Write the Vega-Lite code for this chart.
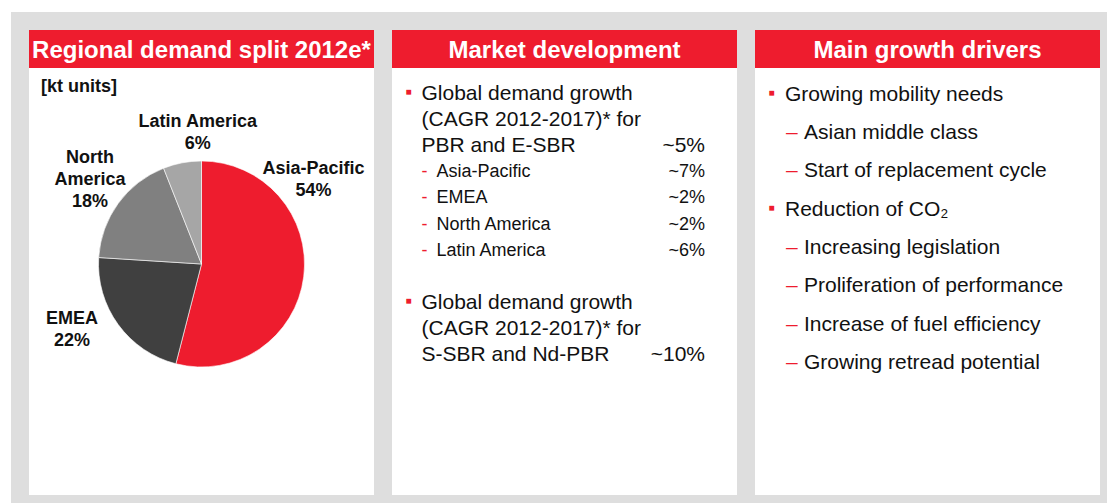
{
  "$schema": "https://vega.github.io/schema/vega-lite/v6.json",
  "background": "#dedede",
  "padding": {"left": 0, "top": 0, "right": 0, "bottom": 0},
  "spacing": 0,
  "config": {
    "view": {"stroke": null},
    "font": "Liberation Sans",
    "text": {"font": "Liberation Sans", "color": "#111111"}
  },
  "datasets": {
    "pie": [
      {"region": "Asia-Pacific", "share": 54, "label": "Asia-Pacific\n54%"},
      {"region": "EMEA", "share": 22, "label": "EMEA\n22%"},
      {"region": "North America", "share": 18, "label": "North\nAmerica\n18%"},
      {"region": "Latin America", "share": 6, "label": "Latin America\n6%"}
    ],
    "market": [
      {"text": "Global demand growth", "line": 0, "level": 0, "first": true, "growth": ""},
      {"text": "(CAGR 2012-2017)* for", "line": 1, "level": 0, "first": false, "growth": ""},
      {"text": "PBR and E-SBR", "line": 2, "level": 0, "first": false, "growth": "~5%"},
      {"text": "Asia-Pacific", "line": 3, "level": 1, "first": true, "growth": "~7%"},
      {"text": "EMEA", "line": 4, "level": 1, "first": true, "growth": "~2%"},
      {"text": "North America", "line": 5, "level": 1, "first": true, "growth": "~2%"},
      {"text": "Latin America", "line": 6, "level": 1, "first": true, "growth": "~6%"},
      {"text": "Global demand growth", "line": 8, "level": 0, "first": true, "growth": ""},
      {"text": "(CAGR 2012-2017)* for", "line": 9, "level": 0, "first": false, "growth": ""},
      {"text": "S-SBR and Nd-PBR", "line": 10, "level": 0, "first": false, "growth": "~10%"}
    ],
    "drivers": [
      {"text": "Growing mobility needs", "line": 0, "level": 0},
      {"text": "Asian middle class", "line": 1, "level": 1},
      {"text": "Start of replacement cycle", "line": 2, "level": 1},
      {"text": "Reduction of CO₂", "line": 3, "level": 0},
      {"text": "Increasing legislation", "line": 4, "level": 1},
      {"text": "Proliferation of performance", "line": 5, "level": 1},
      {"text": "Increase of fuel efficiency", "line": 6, "level": 1},
      {"text": "Growing retread potential", "line": 7, "level": 1}
    ],
    "none": []
  },
  "vconcat": [
    {
      "width": 1107, "height": 12,
      "view": {"fill": "#ffffff", "stroke": null},
      "data": {"name": "none"},
      "mark": {"type": "text"},
      "encoding": {"text": {"field": "note"}}
    },
    {
      "spacing": 18,
      "hconcat": [
        {
          "width": 11, "height": 491,
          "view": {"fill": "#ffffff", "stroke": null},
          "data": {"name": "none"},
          "mark": {"type": "text"},
          "encoding": {"text": {"field": "note"}}
        },
        {
          "spacing": 17,
          "vconcat": [
            {
              "width": 1, "height": 1,
              "data": {"name": "none"},
              "mark": {"type": "text"},
              "encoding": {"text": {"field": "note"}}
            },
            {
              "spacing": 18,
              "hconcat": [
                {
                  "spacing": 0,
                  "vconcat": [
                    {
                      "width": 345, "height": 38,
                      "view": {"fill": "#ee1c2e", "stroke": null},
                      "data": {"values": [{"title": "Regional demand split 2012e*"}]},
                      "mark": {"type": "text", "fontSize": 24, "fontWeight": "bold", "color": "#ffffff", "align": "center", "baseline": "middle", "dy": 2},
                      "encoding": {"text": {"field": "title"}}
                    },
                    {
                      "width": 345, "height": 392,
                      "view": {"fill": "#ffffff", "stroke": null},
                      "layer": [
                        {
                          "data": {"values": [{"note": "[kt units]"}]},
                          "mark": {"type": "text", "fontSize": 18, "fontWeight": "bold", "align": "left", "baseline": "middle", "x": 12, "y": 19, "color": "#111111"},
                          "encoding": {"text": {"field": "note"}}
                        },
                        {
                          "data": {"name": "pie"},
                          "mark": {"type": "arc", "outerRadius": 103, "stroke": "#ffffff", "strokeWidth": 0.6},
                          "encoding": {
                            "theta": {"field": "share", "type": "quantitative", "stack": true},
                            "order": {"field": "share", "sort": "descending"},
                            "color": {
                              "field": "region", "type": "nominal", "legend": null,
                              "scale": {"domain": ["Asia-Pacific", "EMEA", "North America", "Latin America"], "range": ["#ee1c2e", "#404040", "#808080", "#a6a6a6"]}
                            }
                          }
                        },
                        {
                          "data": {"name": "pie"},
                          "mark": {
                            "type": "text", "fontSize": 18, "fontWeight": "bold", "align": "center", "baseline": "middle",
                            "lineBreak": "\n", "lineHeight": 22, "color": "#111111",
                            "dx": {"expr": "datum.region == 'Asia-Pacific' ? 112 : datum.region == 'EMEA' ? -129.5 : datum.region == 'North America' ? -111.5 : -3.7"},
                            "dy": {"expr": "datum.region == 'Asia-Pacific' ? -95 : datum.region == 'EMEA' ? 54.5 : datum.region == 'North America' ? -106 : -142"}
                          },
                          "encoding": {"text": {"field": "label"}}
                        }
                      ]
                    },
                    {
                      "width": 345, "height": 35,
                      "view": {"fill": "#ffffff", "stroke": null},
                      "data": {"name": "none"},
                      "mark": {"type": "text"},
                      "encoding": {"text": {"field": "note"}}
                    }
                  ]
                },
                {
                  "spacing": 0,
                  "vconcat": [
                    {
                      "width": 345, "height": 38,
                      "view": {"fill": "#ee1c2e", "stroke": null},
                      "data": {"values": [{"title": "Market development"}]},
                      "mark": {"type": "text", "fontSize": 24, "fontWeight": "bold", "color": "#ffffff", "align": "center", "baseline": "middle", "dy": 2},
                      "encoding": {"text": {"field": "title"}}
                    },
                    {
                      "width": 345, "height": 427,
                      "view": {"fill": "#ffffff", "stroke": null},
                      "data": {"name": "market"},
                      "encoding": {
                        "x": {"field": "level", "type": "quantitative", "axis": null, "scale": {"domain": [0, 1], "range": [29.5, 44.5], "nice": false, "zero": false}},
                        "y": {"field": "line", "type": "quantitative", "axis": null, "scale": {"domain": [0, 10], "range": [26, 287], "nice": false, "zero": false}}
                      },
                      "layer": [
                        {
                          "mark": {"type": "text", "align": "left", "baseline": "middle", "color": "#111111"},
                          "encoding": {
                            "text": {"field": "text"},
                            "size": {"field": "level", "type": "ordinal", "legend": null, "scale": {"domain": [0, 1], "range": [21, 18]}}
                          }
                        },
                        {
                          "transform": [{"filter": "datum.first && datum.level == 0"}],
                          "mark": {"type": "text", "text": "■", "fontSize": 10, "align": "center", "baseline": "middle", "dx": -13, "dy": -2, "color": "#ee1c2e"}
                        },
                        {
                          "transform": [{"filter": "datum.first && datum.level == 1"}],
                          "mark": {"type": "text", "text": "-", "fontSize": 18, "align": "center", "baseline": "middle", "dx": -12, "color": "#ee1c2e"}
                        },
                        {
                          "transform": [{"filter": "datum.growth != ''"}],
                          "mark": {"type": "text", "align": "right", "baseline": "middle", "dx": -32, "color": "#111111"},
                          "encoding": {
                            "x": {"value": "width"},
                            "text": {"field": "growth"},
                            "size": {"field": "level", "type": "ordinal", "legend": null, "scale": {"domain": [0, 1], "range": [21, 18]}}
                          }
                        }
                      ]
                    }
                  ]
                },
                {
                  "spacing": 0,
                  "vconcat": [
                    {
                      "width": 345, "height": 38,
                      "view": {"fill": "#ee1c2e", "stroke": null},
                      "data": {"values": [{"title": "Main growth drivers"}]},
                      "mark": {"type": "text", "fontSize": 24, "fontWeight": "bold", "color": "#ffffff", "align": "center", "baseline": "middle", "dy": 2},
                      "encoding": {"text": {"field": "title"}}
                    },
                    {
                      "width": 345, "height": 427,
                      "view": {"fill": "#ffffff", "stroke": null},
                      "data": {"name": "drivers"},
                      "encoding": {
                        "x": {"field": "level", "type": "quantitative", "axis": null, "scale": {"domain": [0, 1], "range": [30, 49], "nice": false, "zero": false}},
                        "y": {"field": "line", "type": "quantitative", "axis": null, "scale": {"domain": [0, 7], "range": [26.7, 294.8], "nice": false, "zero": false}}
                      },
                      "layer": [
                        {
                          "mark": {"type": "text", "align": "left", "baseline": "middle", "fontSize": 21, "color": "#111111"},
                          "encoding": {"text": {"field": "text"}}
                        },
                        {
                          "transform": [{"filter": "datum.level == 0"}],
                          "mark": {"type": "text", "text": "■", "fontSize": 10, "align": "center", "baseline": "middle", "dx": -13.5, "dy": -2, "color": "#ee1c2e"}
                        },
                        {
                          "transform": [{"filter": "datum.level == 1"}],
                          "mark": {"type": "text", "text": "–", "fontSize": 21, "align": "left", "baseline": "middle", "dx": -18, "color": "#ee1c2e"}
                        }
                      ]
                    }
                  ]
                }
              ]
            }
          ]
        }
      ]
    }
  ]
}
